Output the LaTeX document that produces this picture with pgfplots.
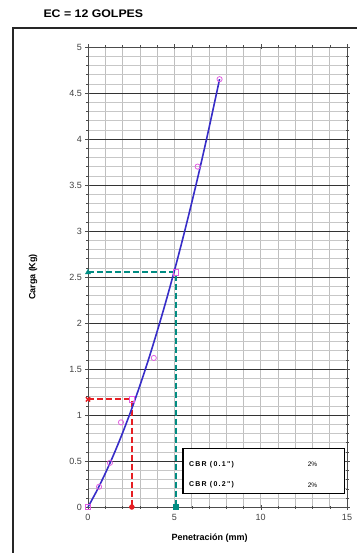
\documentclass[border=0pt]{standalone}
\usepackage{pgfplots}
\pgfplotsset{compat=1.18}
\usepackage{fontspec}
\setmainfont{Liberation Sans}
\newfontfamily\spaced[LetterSpace=18]{Liberation Sans}
\definecolor{curveblue}{RGB}{55,45,200}
\definecolor{ptmag}{RGB}{225,95,225}
\definecolor{cbrred}{RGB}{230,30,35}
\definecolor{cbrteal}{RGB}{0,140,130}
\begin{document}
\begin{tikzpicture}
\begin{axis}[
  at={(0pt,0pt)}, anchor=origin,
  scale only axis, width=259pt, height=460pt,
  xmin=0, xmax=15, ymin=0, ymax=5,
  xtick={0,5,10,15}, ytick={0,0.5,...,5},
  minor x tick num=4, minor y tick num=4,
  grid=both,
  major x grid style={black!25, line width=0.5pt},
  minor x grid style={black!25, line width=0.5pt},
  major y grid style={black!80, line width=0.7pt},
  minor y grid style={black!22, line width=0.5pt},
  axis line style={black!70, line width=0.8pt},
  tick align=center, major tick length=5pt, minor tick length=3pt,
  tick style={black!70},
  /pgf/number format/assume math mode=true,
  tick label style={font=\fontsize{9}{10}\selectfont, text=black!75},
  xticklabel style={yshift=-1pt},
  xlabel={Penetración (mm)}, ylabel={Carga (Kg)},
  xlabel style={font=\bfseries\fontsize{9}{10}\selectfont, at={(axis description cs:0.47,-0.067)}, anchor=center},
  ylabel style={font=\bfseries\fontsize{9}{10}\selectfont, at={(axis description cs:-0.212,0.5)}, anchor=center},
  clip=false,
]
% CBR 0.1 red dashed
\addplot[cbrred, line width=2pt, dash pattern=on 6pt off 3pt] coordinates {(0,1.17) (2.54,1.17) (2.54,0)};
\addplot[cbrred, only marks, mark=x, mark size=3pt, line width=1.5pt] coordinates {(0,1.17)};
\addplot[cbrred, only marks, mark=*, mark size=2.5pt] coordinates {(2.54,0)};
% CBR 0.2 teal dashed
\addplot[cbrteal, line width=2pt, dash pattern=on 6pt off 3pt] coordinates {(0,2.55) (5.08,2.55) (5.08,0)};
\addplot[cbrteal, only marks, mark=triangle*, mark size=3pt] coordinates {(0,2.55)};
\addplot[cbrteal, only marks, mark=square*, mark size=2.5pt] coordinates {(5.08,0)};
% fitted curve
\addplot[curveblue, line width=1.6pt, smooth] coordinates {
 (0,0) (0.5,0.173) (1,0.365) (1.5,0.575) (2,0.804) (2.5,1.051) (3,1.317) (3.5,1.601)
 (4,1.905) (4.5,2.226) (5,2.566) (5.5,2.925) (6,3.302) (6.5,3.697) (7,4.112) (7.62,4.65)};
% data points
\addplot[ptmag, only marks, mark=o, mark size=2.6pt, line width=0.8pt] coordinates {
 (0.64,0.22) (1.27,0.48) (1.91,0.92) (3.81,1.62) (6.35,3.70) (7.62,4.65)};
\addplot[ptmag, only marks, mark=square, mark size=2.6pt, line width=0.8pt] coordinates {
 (0,0) (2.54,1.17) (5.08,2.55)};
% CBR box
\draw[black, line width=1.1pt, fill=white] (axis cs:5.5,0.15) rectangle (axis cs:14.88,0.64);
\node[anchor=west, font=\spaced\bfseries\fontsize{7}{8}\selectfont] at (axis cs:5.65,0.46) {CBR (0.1")};
\node[anchor=west, font=\spaced\bfseries\fontsize{7}{8}\selectfont] at (axis cs:5.65,0.24) {CBR (0.2")};
\node[anchor=center, font=\fontsize{6.5}{7}\selectfont] at (axis cs:13.0,0.46) {2\%};
\node[anchor=center, font=\fontsize{6.5}{7}\selectfont] at (axis cs:13.0,0.24) {2\%};
\end{axis}
\draw[line width=2.6pt, black!85] (-75pt,-60pt) -- (-75pt,479pt) -- (275pt,479pt);
\node[font=\bfseries\fontsize{11}{12}\selectfont, anchor=west] at (-48pt,493pt) {\scalebox{1.12}[1]{EC = 12 GOLPES}};
\pgfresetboundingbox
\path[use as bounding box] (-88pt,-46pt) rectangle (268pt,507pt);
\end{tikzpicture}
\end{document}
